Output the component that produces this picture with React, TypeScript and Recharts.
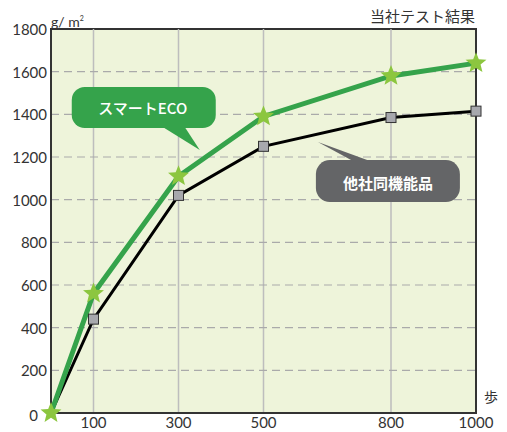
import React from 'react';
import {
  LineChart, Line, XAxis, YAxis, ReferenceArea, ReferenceLine, ReferenceDot, Customized,
} from 'recharts';

const steps = [0, 100, 300, 500, 800, 1000];
const ecoValues = [0, 560, 1110, 1390, 1580, 1640];
const otherValues = [0, 440, 1020, 1250, 1385, 1415];
const xTicks = [100, 300, 500, 800, 1000];
const yTicks = [0, 200, 400, 600, 800, 1000, 1200, 1400, 1600, 1800];
const gridX = [100, 300, 500, 800];
const gridY = [200, 400, 600, 800, 1000, 1200, 1400, 1600];

const FONT = '"Noto Sans CJK JP", "Noto Sans", sans-serif';
const NUM_FONT = 'Lato, "Noto Sans", sans-serif';

const data = steps.map((s, i) => ({ step: s, eco: ecoValues[i], other: otherValues[i] }));

const Star = (props: any) => {
  const { cx, cy } = props;
  if (cx == null || cy == null) return null;
  const pts: string[] = [];
  for (let i = 0; i < 10; i++) {
    const r = i % 2 === 0 ? 11 : 4.8;
    const a = -Math.PI / 2 + (i * Math.PI) / 5;
    pts.push(`${cx + r * Math.cos(a)},${cy + r * Math.sin(a)}`);
  }
  return <polygon points={pts.join(' ')} fill="#8cc63f" />;
};

const Square = (props: any) => {
  const { cx, cy, index } = props;
  if (cx == null || cy == null || index === 0) return null;
  return <rect x={cx - 5} y={cy - 5} width={10} height={10} fill="#a7a8ad" stroke="#333" strokeWidth={1} />;
};

// y tick: the 0 label sits a bit further left, out of the star's way
const YTick = (props: any) => {
  const { x, y, payload } = props;
  const zero = payload.value === 0;
  return (
    <text x={zero ? x - 9 : x} y={zero ? y + 2 : y} textAnchor="end" dominantBaseline="central"
      fontSize={15} fill="#333" fontFamily={NUM_FONT}>{payload.value}</text>
  );
};

// callout bubbles, drawn relative to the tail tip
const EcoBubble = (props: any) => {
  const { cx, cy } = props;
  const x0 = cx - 128, y0 = cy - 63;
  return (
    <g>
      <rect x={x0} y={y0} width={144} height={41} rx={13} fill="#35a34b" />
      <polygon points={`${cx - 37},${y0 + 40} ${cx - 15},${y0 + 40} ${cx},${cy}`} fill="#35a34b" />
      <text x={x0 + 71} y={y0 + 21} fill="#fff" fontSize={15} fontWeight={500} fontFamily={FONT}
        textAnchor="middle" dominantBaseline="central">スマートECO</text>
    </g>
  );
};

const OtherBubble = (props: any) => {
  const { cx, cy } = props;
  const x0 = cx - 2, y0 = cy + 18;
  return (
    <g>
      <rect x={x0} y={y0} width={144} height={42} rx={14} fill="#646567" />
      <polygon points={`${cx},${cy} ${cx + 52},${y0 + 1} ${cx + 35},${y0 + 1}`} fill="#646567" />
      <text x={x0 + 72} y={y0 + 22} fill="#fff" fontSize={15} fontWeight={700} fontFamily={FONT}
        textAnchor="middle" dominantBaseline="central">他社同機能品</text>
    </g>
  );
};

const Titles = () => (
  <g fontFamily={FONT} fill="#333">
    <text x={51} y={27} fontSize={14} fontFamily={NUM_FONT}>g/ m<tspan fontSize={7} dy={-6}>2</tspan></text>
    <text x={475} y={22} fontSize={15} textAnchor="end">当社テスト結果</text>
    <text x={484} y={402} fontSize={14}>歩</text>
  </g>
);

export default function App() {
  return (
    <div style={{ position: 'absolute', left: 0, top: 0, background: '#fff' }}>
      <LineChart width={507} height={432} data={data} margin={{ top: 29, right: 31, bottom: 0, left: 0 }}>
        <XAxis dataKey="step" type="number" domain={[0, 1000]} ticks={xTicks} height={19}
          tickLine={false} tickSize={0} axisLine={{ stroke: '#333', strokeWidth: 2 }} tickMargin={4}
          tick={{ fontSize: 15, fill: '#333', fontFamily: NUM_FONT }} />
        <YAxis type="number" domain={[0, 1800]} ticks={yTicks} width={51} interval={0}
          tickLine={false} tickSize={0} axisLine={{ stroke: '#333', strokeWidth: 2 }} tickMargin={4}
          tick={<YTick />} />
        <ReferenceArea x1={0} x2={1000} y1={0} y2={1800} fill="#eef4da" fillOpacity={1}
          stroke="#333" strokeWidth={2} />
        {gridX.map((v) => (
          <ReferenceLine key={`gx${v}`} x={v} stroke="#bdbdbd" strokeWidth={1.5} />
        ))}
        {gridY.map((v) => (
          <ReferenceLine key={`gy${v}`} y={v} stroke="#aaa" strokeWidth={1.2} strokeDasharray="8 5" />
        ))}
        <Line dataKey="other" stroke="#000" strokeWidth={3} dot={<Square />} isAnimationActive={false} />
        <Line dataKey="eco" stroke="#35a34b" strokeWidth={5} dot={<Star />} isAnimationActive={false} />
        <ReferenceDot x={350} y={1233} r={0} shape={<EcoBubble />} />
        <ReferenceDot x={628} y={1270} r={0} shape={<OtherBubble />} />
        <Customized component={<Titles />} />
      </LineChart>
    </div>
  );
}
